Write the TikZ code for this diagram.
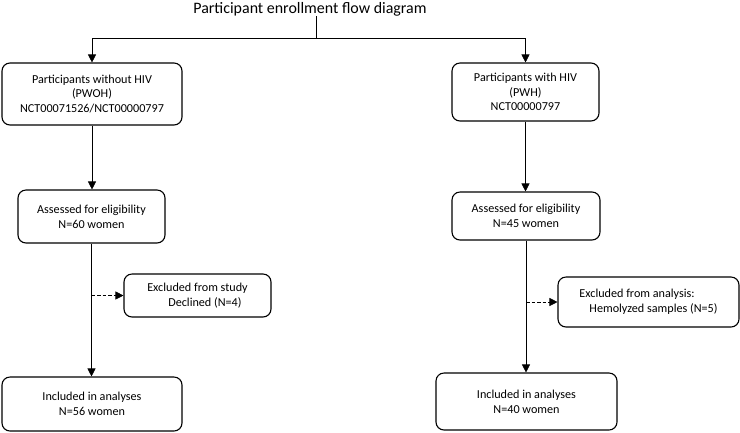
\documentclass[tikz,border=0pt]{standalone}
\usepackage{fontspec}
\setmainfont{Carlito}
\usetikzlibrary{arrows.meta}
\tikzset{
  box/.style={draw, line width=1.1pt, rounded corners=8bp, align=center, inner sep=2bp, font=\fontsize{12.2}{14.8}\selectfont},
  arr/.style={line width=0.6pt, -{Triangle[length=8bp,width=8bp]}},
  darr/.style={arr, dashed, dash pattern=on 3.5bp off 2bp},
}
\begin{document}
\begin{tikzpicture}[x=1bp,y=-1bp]
\useasboundingbox (0,0) rectangle (740,432);
\node[font=\fontsize{16}{18}\selectfont, inner sep=0pt] (title) at (310,9) {Participant enrollment flow diagram};
\node[box, minimum width=180bp, minimum height=62bp] (pwoh) at (92,94) {Participants without HIV\\(PWOH)\\NCT00071526/NCT00000797};
\node[box, minimum width=147bp, minimum height=58bp] (pwh) at (525.5,92) {Participants with HIV\\(PWH)\\NCT00000797};
\node[box, minimum width=147bp, minimum height=53bp] (aL) at (91.5,216.5) {Assessed for eligibility\\N=60 women};
\node[box, minimum width=148bp, minimum height=48bp] (aR) at (526,216) {Assessed for eligibility\\N=45 women};
\node[box, minimum width=147bp, minimum height=43bp, align=left] (exL) at (197.5,295.5) {Excluded from study\\\hspace{21bp}Declined (N=4)};
\node[box, minimum width=181bp, minimum height=50bp, align=left] (exR) at (648.5,302) {Excluded from analysis:\\\hspace{10bp}Hemolyzed samples (N=5)};
\node[box, minimum width=180bp, minimum height=54bp] (iL) at (92,404) {Included in analyses\\N=56 women};
\node[box, minimum width=181bp, minimum height=57bp] (iR) at (526.5,401.5) {Included in analyses\\N=40 women};
\coordinate (split) at (316,38);
\draw[line width=0.6pt] (split |- title.south) -- (split);
\draw[arr] (split) -| (pwoh.north);
\draw[arr] (split) -| (pwh.north);
\draw[arr] (pwoh.south) -- (pwoh.south |- aL.north);
\draw[arr] (pwh.south) -- (pwh.south |- aR.north);
\draw[arr] (aL.south) -- (aL.south |- iL.north);
\draw[arr] (aR.south) -- (aR.south |- iR.north);
\draw[darr] (aL.south |- exL.west) -- (exL.west);
\draw[darr] (aR.south |- exR.west) -- (exR.west);
\end{tikzpicture}
\end{document}
